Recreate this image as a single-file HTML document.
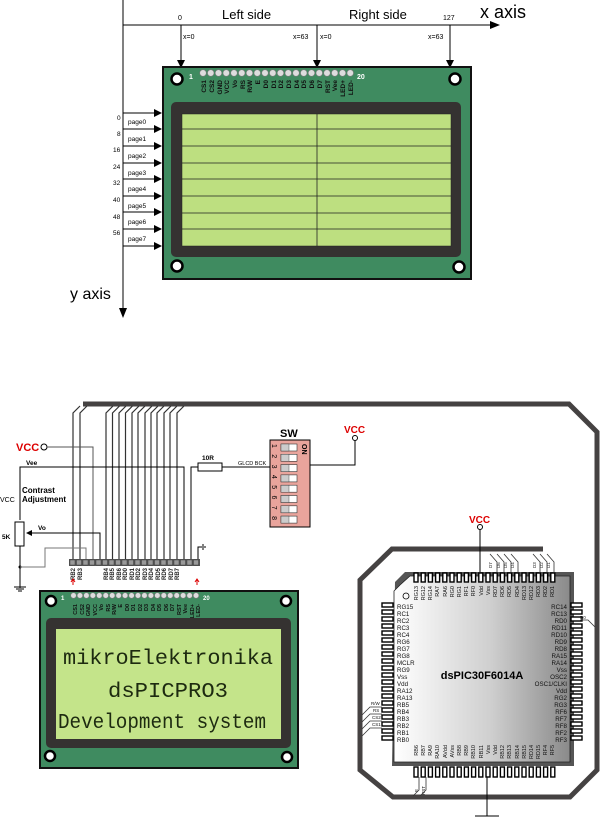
<!DOCTYPE html>
<html><head><meta charset="utf-8"><style>
html,body{margin:0;padding:0;background:#fff;width:600px;height:828px;overflow:hidden}
svg{display:block;font-family:"Liberation Sans",sans-serif}
.s{font-size:6px}
.p{font-size:6.5px;font-weight:bold}
.c{font-size:6px}
.lcd{font-family:"Liberation Mono",monospace;font-size:21px;fill:#1d2a10}
</style></head><body>
<svg id="g" width="600" height="828" viewBox="0 0 600 828" xmlns="http://www.w3.org/2000/svg">
<defs>
<marker id="ar" markerWidth="8" markerHeight="8" refX="7" refY="4" orient="auto" markerUnits="userSpaceOnUse"><path d="M0,0 L8,4 L0,8Z" fill="#000"/></marker>
<linearGradient id="chip" x1="0" x2="1" y1="0" y2="0"><stop offset="0" stop-color="#fff"/><stop offset="0.55" stop-color="#cfcfcf"/><stop offset="1" stop-color="#8a8a8a"/></linearGradient>
</defs>
<line x1="123" y1="0" x2="123" y2="316" stroke="#000" stroke-width="1"/>
<path d="M119,308 L123,318 L127,308Z" fill="#000"/>
<text x="70" y="299" font-size="16">y axis</text>
<line x1="123" y1="25" x2="496" y2="25" stroke="#000"/>
<path d="M490,21 L500,25 L490,29Z" fill="#000"/>
<text x="480" y="18" font-size="18">x axis</text>
<text x="222" y="19" font-size="13">Left side</text>
<text x="349" y="19" font-size="13">Right side</text>
<text x="178" y="20" font-size="7">0</text>
<text x="443" y="20" font-size="7">127</text>
<g stroke="#000" marker-end="url(#ar)"><line x1="181" y1="25" x2="181" y2="67"/><line x1="317" y1="25" x2="317" y2="67"/><line x1="450" y1="25" x2="450" y2="67"/></g>
<g font-size="7"><text x="183" y="39">x=0</text><text x="293" y="39">x=63</text><text x="320" y="39">x=0</text><text x="428" y="39">x=63</text></g>
<rect x="163" y="67" width="308" height="212" fill="#3f8b60" stroke="#111" stroke-width="2"/>
<rect x="171" y="102" width="290" height="155" rx="5" fill="#353231"/>
<rect x="182" y="114" width="269" height="132" fill="#bddf80" stroke="#222" stroke-width="0.5"/>
<g stroke="#222" stroke-width="0.8">
<line x1="182" y1="129" x2="451" y2="129"/><line x1="182" y1="146" x2="451" y2="146"/><line x1="182" y1="163" x2="451" y2="163"/><line x1="182" y1="179" x2="451" y2="179"/><line x1="182" y1="196" x2="451" y2="196"/><line x1="182" y1="213" x2="451" y2="213"/><line x1="182" y1="229" x2="451" y2="229"/><line x1="317" y1="114" x2="317" y2="246"/></g>
<g fill="#fff" stroke="#000" stroke-width="2.5"><circle cx="177" cy="79" r="5.5"/><circle cx="455" cy="79" r="5.5"/><circle cx="177" cy="266" r="5.5"/><circle cx="459" cy="267" r="5.5"/></g>
<text x="189" y="79" font-size="7" fill="#fff" font-weight="bold">1</text>
<text x="357" y="79" font-size="7" fill="#fff" font-weight="bold">20</text>
<g id="tp1"></g>
<g class="p" fill="#111">
<text transform="translate(206,80) rotate(-90)" text-anchor="end">CS1</text>
<text transform="translate(214,80) rotate(-90)" text-anchor="end">CS2</text>
<text transform="translate(222,80) rotate(-90)" text-anchor="end">GND</text>
<text transform="translate(229,80) rotate(-90)" text-anchor="end">VCC</text>
<text transform="translate(237,80) rotate(-90)" text-anchor="end">Vo</text>
<text transform="translate(245,80) rotate(-90)" text-anchor="end">RS</text>
<text transform="translate(252,80) rotate(-90)" text-anchor="end">R/W</text>
<text transform="translate(260,80) rotate(-90)" text-anchor="end">E</text>
<text transform="translate(268,80) rotate(-90)" text-anchor="end">D0</text>
<text transform="translate(276,80) rotate(-90)" text-anchor="end">D1</text>
<text transform="translate(283,80) rotate(-90)" text-anchor="end">D2</text>
<text transform="translate(291,80) rotate(-90)" text-anchor="end">D3</text>
<text transform="translate(299,80) rotate(-90)" text-anchor="end">D4</text>
<text transform="translate(306,80) rotate(-90)" text-anchor="end">D5</text>
<text transform="translate(314,80) rotate(-90)" text-anchor="end">D6</text>
<text transform="translate(322,80) rotate(-90)" text-anchor="end">D7</text>
<text transform="translate(330,80) rotate(-90)" text-anchor="end">RST</text>
<text transform="translate(337,80) rotate(-90)" text-anchor="end">Vee</text>
<text transform="translate(345,80) rotate(-90)" text-anchor="end">LED+</text>
<text transform="translate(353,80) rotate(-90)" text-anchor="end">LED-</text>
</g>
<g stroke="#000" marker-end="url(#ar)">
<line x1="123" y1="113" x2="161" y2="113"/><line x1="123" y1="129" x2="161" y2="129"/><line x1="123" y1="146" x2="161" y2="146"/><line x1="123" y1="163" x2="161" y2="163"/><line x1="123" y1="179" x2="161" y2="179"/><line x1="123" y1="196" x2="161" y2="196"/><line x1="123" y1="212" x2="161" y2="212"/><line x1="123" y1="229" x2="161" y2="229"/><line x1="123" y1="246" x2="161" y2="246"/></g>
<g font-size="6.5">
<text x="117" y="120">0</text><text x="117" y="136">8</text><text x="113" y="152">16</text><text x="113" y="169">24</text><text x="113" y="185">32</text><text x="113" y="202">40</text><text x="113" y="219">48</text><text x="113" y="235">56</text>
<text x="128" y="124">page0</text><text x="128" y="141">page1</text><text x="128" y="158">page2</text><text x="128" y="175">page3</text><text x="128" y="191">page4</text><text x="128" y="208">page5</text><text x="128" y="224">page6</text><text x="128" y="241">page7</text>
</g>

<path d="M83,404 L569,404 L597,432 L597,770 L570,797 L393,797 L360,770 L360,580 L392,549 L543,549" fill="none" stroke="#454242" stroke-width="5"/>
<g id="wires" stroke="#333" stroke-width="1.2" fill="none"></g>
<text x="16" y="451" font-size="11" font-weight="bold" fill="#d00">VCC</text>
<circle cx="44" cy="447" r="3" fill="#fff" stroke="#000"/>
<path d="M47,447 H93 V560" fill="none" stroke="#555"/>
<text x="26" y="465" font-size="6.5" font-weight="bold">Vee</text>
<path d="M20,520 V467 H184 V560" fill="none" stroke="#000"/>
<text x="22" y="493" font-size="8" font-weight="bold">Contrast</text>
<text x="22" y="502" font-size="8" font-weight="bold">Adjustment</text>
<text x="0" y="502" font-size="7">VCC</text>
<rect x="15" y="522" width="9" height="24" fill="#fff" stroke="#000"/>
<text x="2" y="539" font-size="6.5" font-weight="bold">5K</text>
<path d="M27,533 H100 V560" fill="none" stroke="#000"/>
<path d="M26,533 L32,530 L32,536Z" fill="#000"/>
<text x="38" y="530" font-size="6.5" font-weight="bold">Vo</text>
<path d="M20,546 V588" stroke="#000"/>
<circle cx="20" cy="567" r="1.5"/>
<path d="M20,567 H45 V548 H86 V560" fill="none" stroke="#777"/>
<path d="M14,587 H26 M16,589 H24 M18,591 H22" stroke="#000"/>
<path d="M191,560 V467 H198" fill="none" stroke="#000"/>
<rect x="198" y="463" width="24" height="8" fill="#fff" stroke="#000"/>
<text x="202" y="460" font-size="6.5" font-weight="bold">10R</text>
<line x1="222" y1="467" x2="270" y2="467" stroke="#000"/>
<text x="238" y="465" font-size="5.5">GLCD BCK</text>
<path d="M198,560 V547 H202 M203,544 V550 M205,546 V548" fill="none" stroke="#000"/>
<rect x="69" y="559" width="131" height="7" fill="#555"/>
<g id="hdr"></g>
<g class="c" font-weight="bold" fill="#222">
<text transform="translate(75,568) rotate(-90)" text-anchor="end">RB2</text>
<text transform="translate(82,568) rotate(-90)" text-anchor="end">RB3</text>
<text transform="translate(108,568) rotate(-90)" text-anchor="end">RB4</text>
<text transform="translate(114,568) rotate(-90)" text-anchor="end">RB5</text>
<text transform="translate(121,568) rotate(-90)" text-anchor="end">RB6</text>
<text transform="translate(127,568) rotate(-90)" text-anchor="end">RD0</text>
<text transform="translate(134,568) rotate(-90)" text-anchor="end">RD1</text>
<text transform="translate(140,568) rotate(-90)" text-anchor="end">RD2</text>
<text transform="translate(147,568) rotate(-90)" text-anchor="end">RD3</text>
<text transform="translate(153,568) rotate(-90)" text-anchor="end">RD4</text>
<text transform="translate(160,568) rotate(-90)" text-anchor="end">RD5</text>
<text transform="translate(166,568) rotate(-90)" text-anchor="end">RD6</text>
<text transform="translate(173,568) rotate(-90)" text-anchor="end">RD7</text>
<text transform="translate(179,568) rotate(-90)" text-anchor="end">RB7</text>
</g>
<path d="M73,585 V580 M71,582 L73,579 L75,582 M197,585 V580 M195,582 L197,579 L199,582" stroke="#d00" fill="none"/>
<text x="280" y="437" font-size="11" font-weight="bold">SW</text>
<rect x="270" y="440" width="40" height="87" fill="#e9a49c" stroke="#000"/>
<g id="sw"></g>
<text transform="translate(302,444) rotate(90)" font-size="7" font-weight="bold">ON</text>
<text x="344" y="433" font-size="10" font-weight="bold" fill="#d00">VCC</text>
<circle cx="355" cy="438" r="2.5" fill="#fff" stroke="#000"/>
<path d="M355,441 V465 H310" fill="none" stroke="#000"/>
<rect x="40" y="591" width="258" height="177" fill="#3f8b60" stroke="#111" stroke-width="2"/>
<rect x="46" y="618" width="245" height="130" rx="5" fill="#353231"/>
<rect x="56" y="629" width="225" height="110" fill="#c4e48a"/>
<g fill="#fff" stroke="#000" stroke-width="2.5"><circle cx="51" cy="601" r="5"/><circle cx="286" cy="601" r="5"/><circle cx="50" cy="756" r="5"/><circle cx="287" cy="757" r="5"/></g>
<text x="61" y="600" font-size="6" fill="#fff" font-weight="bold">1</text>
<text x="203" y="600" font-size="6" fill="#fff" font-weight="bold">20</text>
<g id="tp2"></g>
<g font-size="5.5" font-weight="bold" fill="#111">
<text transform="translate(77,604) rotate(-90)" text-anchor="end">CS1</text>
<text transform="translate(84,604) rotate(-90)" text-anchor="end">CS2</text>
<text transform="translate(90,604) rotate(-90)" text-anchor="end">GND</text>
<text transform="translate(97,604) rotate(-90)" text-anchor="end">VCC</text>
<text transform="translate(103,604) rotate(-90)" text-anchor="end">Vo</text>
<text transform="translate(110,604) rotate(-90)" text-anchor="end">RS</text>
<text transform="translate(116,604) rotate(-90)" text-anchor="end">R/W</text>
<text transform="translate(122,604) rotate(-90)" text-anchor="end">E</text>
<text transform="translate(129,604) rotate(-90)" text-anchor="end">D0</text>
<text transform="translate(135,604) rotate(-90)" text-anchor="end">D1</text>
<text transform="translate(142,604) rotate(-90)" text-anchor="end">D2</text>
<text transform="translate(148,604) rotate(-90)" text-anchor="end">D3</text>
<text transform="translate(155,604) rotate(-90)" text-anchor="end">D4</text>
<text transform="translate(161,604) rotate(-90)" text-anchor="end">D5</text>
<text transform="translate(168,604) rotate(-90)" text-anchor="end">D6</text>
<text transform="translate(174,604) rotate(-90)" text-anchor="end">D7</text>
<text transform="translate(181,604) rotate(-90)" text-anchor="end">RST</text>
<text transform="translate(187,604) rotate(-90)" text-anchor="end">Vee</text>
<text transform="translate(194,604) rotate(-90)" text-anchor="end">LED+</text>
<text transform="translate(200,604) rotate(-90)" text-anchor="end">LED-</text>
</g>
<text x="168" y="664" class="lcd" text-anchor="middle" textLength="210" lengthAdjust="spacingAndGlyphs">mikroElektronika</text>
<text x="168" y="697" class="lcd" text-anchor="middle" textLength="120" lengthAdjust="spacingAndGlyphs">dsPICPRO3</text>
<text x="162" y="728" class="lcd" text-anchor="middle" textLength="208" lengthAdjust="spacingAndGlyphs">Development system</text>
<text x="469" y="523" font-size="10" font-weight="bold" fill="#d00">VCC</text>
<circle cx="480" cy="527" r="2.5" fill="#fff" stroke="#000"/>
<line x1="480" y1="530" x2="480" y2="573" stroke="#000"/>
<line x1="487" y1="777" x2="487" y2="816" stroke="#000"/>
<line x1="475" y1="816" x2="499" y2="816" stroke="#000"/>
<path d="M395,582 L405,572 L574,572 L574,766 L392,766Z" fill="#555"/>
<path d="M400,585 L410,576 L570,576 L570,762 L394,762 L394,591Z" fill="url(#chip)" stroke="#222" stroke-width="0.8"/>
<g id="cp"></g>
<circle cx="406" cy="596" r="3" fill="none" stroke="#000" stroke-width="0.8"/>
<text x="482" y="679" font-size="11" font-weight="bold" text-anchor="middle">dsPIC30F6014A</text>
<g font-size="6.2" fill="#111">
<text x="397" y="609">RG15</text><text x="397" y="616">RC1</text><text x="397" y="623">RC2</text><text x="397" y="630">RC3</text><text x="397" y="637">RC4</text><text x="397" y="644">RG6</text><text x="397" y="651">RG7</text><text x="397" y="658">RG8</text><text x="397" y="665">MCLR</text><text x="397" y="672">RG9</text><text x="397" y="679">Vss</text><text x="397" y="686">Vdd</text><text x="397" y="693">RA12</text><text x="397" y="700">RA13</text><text x="397" y="707">RB5</text><text x="397" y="714">RB4</text><text x="397" y="721">RB3</text><text x="397" y="728">RB2</text><text x="397" y="735">RB1</text><text x="397" y="742">RB0</text>
</g>
<g font-size="6.2" fill="#111" text-anchor="end">
<text x="567" y="609">RC14</text><text x="567" y="616">RC13</text><text x="567" y="623">RD0</text><text x="567" y="630">RD11</text><text x="567" y="637">RD10</text><text x="567" y="644">RD9</text><text x="567" y="651">RD8</text><text x="567" y="658">RA15</text><text x="567" y="665">RA14</text><text x="567" y="672">Vss</text><text x="567" y="679">OSC2</text><text x="567" y="686">OSC1/CLKI</text><text x="567" y="693">Vdd</text><text x="567" y="700">RG2</text><text x="567" y="707">RG3</text><text x="567" y="714">RF6</text><text x="567" y="721">RF7</text><text x="567" y="728">RF8</text><text x="567" y="735">RF2</text><text x="567" y="742">RF3</text>
</g>
<g font-size="5.5" fill="#111">
<text transform="translate(418,586) rotate(-90)" text-anchor="end">RG13</text>
<text transform="translate(425,586) rotate(-90)" text-anchor="end">RG12</text>
<text transform="translate(432,586) rotate(-90)" text-anchor="end">RG14</text>
<text transform="translate(439,586) rotate(-90)" text-anchor="end">RA7</text>
<text transform="translate(447,586) rotate(-90)" text-anchor="end">RA6</text>
<text transform="translate(454,586) rotate(-90)" text-anchor="end">RG0</text>
<text transform="translate(461,586) rotate(-90)" text-anchor="end">RG1</text>
<text transform="translate(468,586) rotate(-90)" text-anchor="end">RF1</text>
<text transform="translate(475,586) rotate(-90)" text-anchor="end">RF0</text>
<text transform="translate(483,586) rotate(-90)" text-anchor="end">Vdd</text>
<text transform="translate(490,586) rotate(-90)" text-anchor="end">Vss</text>
<text transform="translate(497,586) rotate(-90)" text-anchor="end">RD7</text>
<text transform="translate(504,586) rotate(-90)" text-anchor="end">RD6</text>
<text transform="translate(511,586) rotate(-90)" text-anchor="end">RD5</text>
<text transform="translate(519,586) rotate(-90)" text-anchor="end">RD4</text>
<text transform="translate(526,586) rotate(-90)" text-anchor="end">RD13</text>
<text transform="translate(533,586) rotate(-90)" text-anchor="end">RD12</text>
<text transform="translate(540,586) rotate(-90)" text-anchor="end">RD3</text>
<text transform="translate(547,586) rotate(-90)" text-anchor="end">RD2</text>
<text transform="translate(554,586) rotate(-90)" text-anchor="end">RD1</text>
<text transform="translate(418,745) rotate(-90)" text-anchor="end">RB6</text>
<text transform="translate(425,745) rotate(-90)" text-anchor="end">RB7</text>
<text transform="translate(432,745) rotate(-90)" text-anchor="end">RA9</text>
<text transform="translate(439,745) rotate(-90)" text-anchor="end">RA10</text>
<text transform="translate(447,745) rotate(-90)" text-anchor="end">AVdd</text>
<text transform="translate(454,745) rotate(-90)" text-anchor="end">AVss</text>
<text transform="translate(461,745) rotate(-90)" text-anchor="end">RB8</text>
<text transform="translate(468,745) rotate(-90)" text-anchor="end">RB9</text>
<text transform="translate(475,745) rotate(-90)" text-anchor="end">RB10</text>
<text transform="translate(483,745) rotate(-90)" text-anchor="end">RB11</text>
<text transform="translate(490,745) rotate(-90)" text-anchor="end">Vss</text>
<text transform="translate(497,745) rotate(-90)" text-anchor="end">Vdd</text>
<text transform="translate(504,745) rotate(-90)" text-anchor="end">RB12</text>
<text transform="translate(511,745) rotate(-90)" text-anchor="end">RB13</text>
<text transform="translate(519,745) rotate(-90)" text-anchor="end">RB14</text>
<text transform="translate(526,745) rotate(-90)" text-anchor="end">RB15</text>
<text transform="translate(533,745) rotate(-90)" text-anchor="end">RD14</text>
<text transform="translate(540,745) rotate(-90)" text-anchor="end">RD15</text>
<text transform="translate(547,745) rotate(-90)" text-anchor="end">RF4</text>
<text transform="translate(554,745) rotate(-90)" text-anchor="end">RF5</text>
</g>
<g font-size="4.5" fill="#111">
<text transform="translate(492,568) rotate(-90)">D7</text><text transform="translate(500,568) rotate(-90)">D6</text><text transform="translate(507,568) rotate(-90)">D5</text><text transform="translate(514,568) rotate(-90)">D4</text>
<text transform="translate(536,568) rotate(-90)">D3</text><text transform="translate(543,568) rotate(-90)">D2</text><text transform="translate(550,568) rotate(-90)">D1</text>
<text x="580" y="619">D0</text>
<text x="371" y="705">R/W</text><text x="373" y="712">RS</text><text x="372" y="719">CS2</text><text x="372" y="726">CS1</text>
<text transform="translate(418,792) rotate(-90)">E</text><text transform="translate(425,795) rotate(-90)">RST</text>
</g>
<g stroke="#333" stroke-width="0.8" fill="none">
<path d="M497,573 V562 L490,554"/><path d="M504,573 V562 L497,554"/><path d="M511,573 V562 L504,554"/><path d="M518,573 V562 L511,554"/>
<path d="M540,573 V562 L533,554"/><path d="M547,573 V562 L540,554"/><path d="M554,573 V562 L547,554"/>
<path d="M580,620 H588 L595,627"/>
<path d="M382,707 H370 L362,715"/><path d="M382,714 H370 L362,722"/><path d="M382,721 H370 L362,729"/><path d="M382,728 H370 L362,736"/>
<path d="M419,777 V790 L413,796"/><path d="M426,777 V790 L420,796"/>
</g>
</svg>
<script>
var NS="http://www.w3.org/2000/svg";
function el(p,t,a){var e=document.createElementNS(NS,t);for(var k in a)e.setAttribute(k,a[k]);document.getElementById(p).appendChild(e);return e;}
for(var i=0;i<20;i++){el("tp1","circle",{cx:203+i*7.75,cy:73,r:3.3,fill:"#ddd",stroke:"#777","stroke-width":0.6});}
for(var i=0;i<20;i++){el("tp2","circle",{cx:73.5+i*6.45,cy:595.5,r:2.8,fill:"#ddd",stroke:"#777","stroke-width":0.6});}
for(var i=0;i<20;i++){el("hdr","rect",{x:70+i*6.5,y:560,width:5,height:5,fill:"#999",stroke:"#333","stroke-width":0.4});}
var xs=[73,80,106,112.5,119,125.5,132,138,145,151,157,164,170,177];
xs.forEach(function(x,i){el("wires","path",{d:"M"+(x+7)+",406 L"+x+","+(406+7)+" L"+x+",560"});});
for(var i=0;i<8;i++){var y=447+i*10.3;el("sw","rect",{x:281,y:y-3,width:16,height:7,fill:"#fff",stroke:"#333","stroke-width":0.6});el("sw","rect",{x:281,y:y-3,width:8,height:7,fill:"#ccc",stroke:"#333","stroke-width":0.4});
var t=el("sw","text",{x:272,y:y+3,"font-size":"7","transform":"rotate(90,275,"+y+")"});t.textContent=String(i+1);}
for(var i=0;i<20;i++){var x=414+i*7.2;
el("cp","rect",{x:x,y:573,width:4,height:9,fill:"#fff",stroke:"#000","stroke-width":1.4});
el("cp","rect",{x:x,y:767,width:4,height:10,fill:"#fff",stroke:"#000","stroke-width":1.4});
var y=603+i*7;
el("cp","rect",{x:382,y:y,width:11,height:4,fill:"#fff",stroke:"#000","stroke-width":1.4});
el("cp","rect",{x:571,y:y,width:11,height:4,fill:"#fff",stroke:"#000","stroke-width":1.4});}
</script>
</body></html>
